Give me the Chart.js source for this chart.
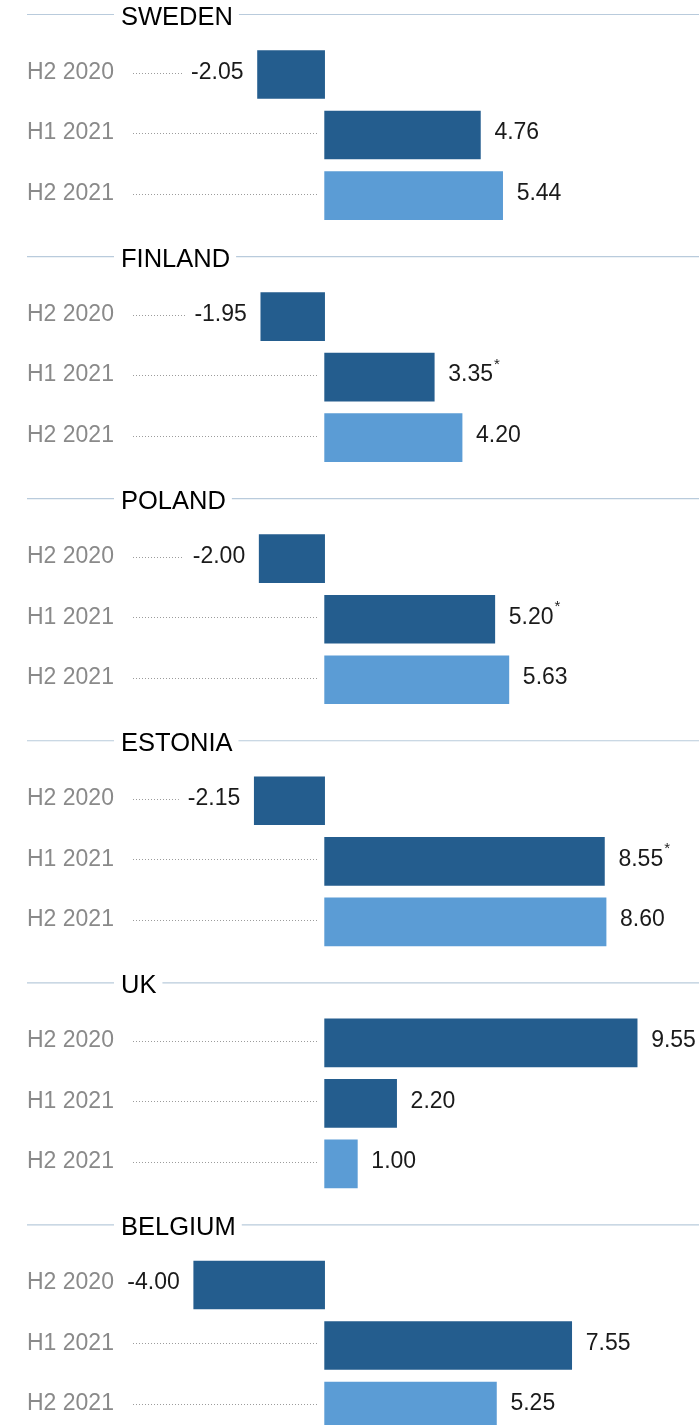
<!DOCTYPE html>
<html>
<head>
<meta charset="utf-8">
<script src="https://cdn.jsdelivr.net/npm/chart.js@4"></script>
<style>
  html, body { margin: 0; padding: 0; background: #fff; }
  #wrap { position: relative; width: 699px; height: 1425px; }
</style>
</head>
<body>
<div id="wrap"><canvas id="myChart"></canvas></div>
<script>
// data
const countries = ['SWEDEN', 'FINLAND', 'POLAND', 'ESTONIA', 'UK', 'BELGIUM'];
const periods = ['H2 2020', 'H1 2021', 'H2 2021'];
const sweden = [-2.05, 4.76, 5.44];
const finland = [-1.95, 3.35, 4.20];
const poland = [-2.00, 5.20, 5.63];
const estonia = [-2.15, 8.55, 8.60];
const uk = [9.55, 2.20, 1.00];
const belgium = [-4.00, 7.55, 5.25];
// values marked with an asterisk
const starred = ['FINLAND H1 2021', 'POLAND H1 2021', 'ESTONIA H1 2021'];

const seriesByCountry = [sweden, finland, poland, estonia, uk, belgium];

const dark = '#245d8e';
const light = '#5b9cd5';

// one row per header + one per period
const rows = [];
countries.forEach((c, ci) => {
    rows.push({ header: true, name: c });
    periods.forEach((p, pi) => {
        rows.push({
            header: false,
            name: p,
            value: seriesByCountry[ci][pi],
            star: starred.includes(c + ' ' + p),
            color: pi === 2 ? light : dark
        });
    });
});

const labels = rows.map(r => r.name);
const values = rows.map(r => r.header ? null : r.value);
const colors = rows.map(r => r.header ? 'rgba(0,0,0,0)' : r.color);

const FONT = '"Liberation Sans", Arial, Helvetica, sans-serif';

const labelPlugin = {
    id: 'rowLabels',
    afterDatasetsDraw(chart) {
        const ctx = chart.ctx;
        const x = chart.scales.x;
        const y = chart.scales.y;
        const x0 = x.getPixelForValue(0);
        const W = chart.width;
        ctx.save();
        rows.forEach((r, i) => {
            const cy = y.getPixelForValue(i);
            if (r.header) {
                ctx.font = '25.5px ' + FONT;
                const tx = 121;
                const w = ctx.measureText(r.name).width;
                ctx.strokeStyle = '#b9cbdc';
                ctx.lineWidth = 1.2;
                ctx.setLineDash([]);
                ctx.beginPath();
                ctx.moveTo(27, cy + 0.5);
                ctx.lineTo(tx - 7, cy + 0.5);
                ctx.moveTo(tx + w + 6, cy + 0.5);
                ctx.lineTo(W, cy + 0.5);
                ctx.stroke();
                ctx.fillStyle = '#000';
                ctx.textBaseline = 'middle';
                ctx.textAlign = 'left';
                ctx.fillText(r.name, tx, cy + 4);
                return;
            }
            const ty = cy - 2;
            // period label
            ctx.font = '23px ' + FONT;
            ctx.textBaseline = 'middle';
            ctx.textAlign = 'left';
            ctx.fillStyle = '#8a8a8a';
            ctx.fillText(r.name, 27, ty);

            // value label
            const txt = r.value.toFixed(2);
            ctx.font = '23px ' + FONT;
            const tw = ctx.measureText(txt).width;
            const xv = x.getPixelForValue(r.value);
            let lx, dotEnd;
            if (r.value >= 0) {
                lx = xv + 14;
                dotEnd = x0 - 6;
            } else {
                lx = xv - 14 - tw;
                dotEnd = lx - 9;
            }
            ctx.fillStyle = '#1a1a1a';
            ctx.fillText(txt, lx, ty);
            if (r.star) {
                ctx.font = '15px ' + FONT;
                ctx.fillText('*', lx + tw + 1, ty - 10);
            }

            // dotted leader
            const dotStart = 133;
            if (dotEnd - dotStart > 10) {
                ctx.strokeStyle = '#9c9c9c';
                ctx.lineWidth = 1;
                ctx.setLineDash([1, 2]);
                ctx.beginPath();
                ctx.moveTo(dotStart, Math.round(ty) + 0.5);
                ctx.lineTo(dotEnd, Math.round(ty) + 0.5);
                ctx.stroke();
            }
        });
        ctx.restore();
    }
};

const data = {
    labels: labels,
    datasets: [{
        data: values,
        backgroundColor: colors,
        borderWidth: 0,
        barThickness: 48,
        clip: false
    }]
};

const config = {
    type: 'bar',
    data,
    options: {
        indexAxis: 'y',
        responsive: true,
        maintainAspectRatio: false,
        animation: false,
        layout: {
            padding: { top: 14, bottom: 19, left: 0, right: 0 }
        },
        scales: {
            x: { display: false, min: -9.92, max: 11.44 },
            y: { display: false, offset: false }
        },
        plugins: {
            legend: { display: false },
            tooltip: { enabled: false }
        }
    },
    plugins: [labelPlugin]
};

var myChart = new Chart(
    document.getElementById('myChart'),
    config
);
</script>
</body>
</html>
